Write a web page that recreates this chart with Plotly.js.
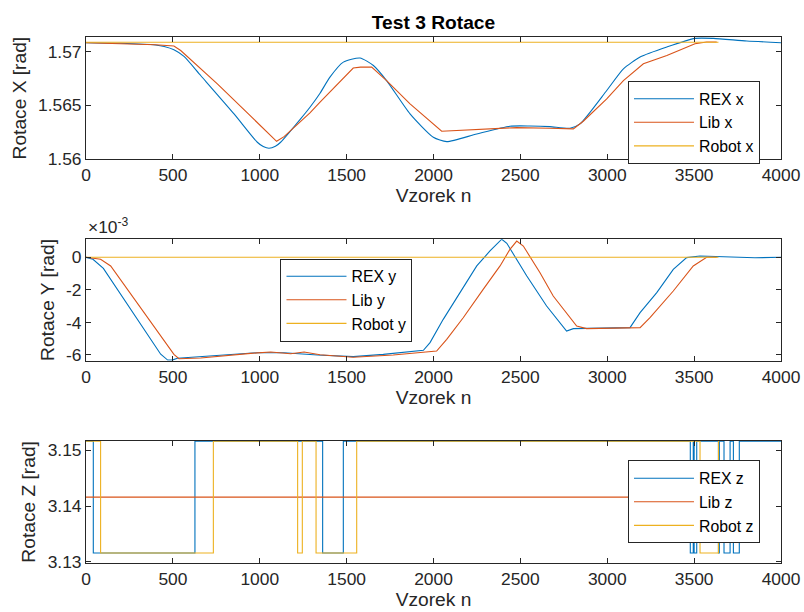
<!DOCTYPE html>
<html>
<head>
<meta charset="utf-8">
<script src="https://cdn.plot.ly/plotly-3.0.1.min.js"></script>
<style>html,body{margin:0;padding:0;background:#fff}#chart{width:804px;height:612px}</style>
</head>
<body>
<div id="chart"></div>
<script>
// ---------- Rotace X ----------
const rexX_n = [0, 200, 400, 450, 506, 564, 660, 852, 986, 1020, 1053, 1090, 1120, 1235, 1289, 1347, 1404, 1481, 1577, 1654, 1730, 1865, 1999, 2076, 2249, 2440, 2555, 2670, 2786, 2843, 2997, 3093, 3189, 3343, 3505, 3611, 3803, 4000];
const rexX_v = [1.57081, 1.57076, 1.57060, 1.57046, 1.57016, 1.56954, 1.56777, 1.56421, 1.56158, 1.56118, 1.56102, 1.56120, 1.56158, 1.56375, 1.56483, 1.56613, 1.56762, 1.56901, 1.56939, 1.56870, 1.56730, 1.56421, 1.56204, 1.56164, 1.56235, 1.56307, 1.56309, 1.56303, 1.56288, 1.56328, 1.56638, 1.56839, 1.56948, 1.57041, 1.57121, 1.57121, 1.57097, 1.57081];
const libX_n = [0, 200, 400, 506, 545, 756, 948, 1097, 1140, 1235, 1289, 1347, 1442, 1538, 1580, 1644, 1730, 1865, 2047, 2249, 2479, 2670, 2805, 2862, 2997, 3093, 3208, 3343, 3505, 3572, 3630];
const libX_v = [1.57081, 1.57072, 1.57062, 1.57050, 1.57009, 1.56700, 1.56396, 1.56167, 1.56210, 1.56349, 1.56430, 1.56530, 1.56684, 1.56846, 1.56855, 1.56855, 1.56730, 1.56514, 1.56260, 1.56275, 1.56294, 1.56288, 1.56282, 1.56353, 1.56560, 1.56730, 1.56886, 1.56963, 1.57072, 1.57087, 1.57087];
const robotX_n = [0, 3640];
const robotX_v = [1.57085, 1.57085];

// ---------- Rotace Y (x 10^-3 rad) ----------
const rexY_n = [0, 40, 100, 430, 470, 500, 526, 756, 986, 1140, 1332, 1538, 1711, 1942, 1980, 2056, 2152, 2249, 2325, 2393, 2422, 2537, 2651, 2766, 2805, 2997, 3131, 3189, 3285, 3380, 3457, 3534, 3700, 3850, 4000];
const rexY_v = [0, -0.12, -0.68, -5.95, -6.31, -6.30, -6.20, -6.02, -5.86, -5.86, -6.00, -6.10, -5.96, -5.71, -5.24, -3.81, -2.17, -0.53, 0.39, 1.11, 0.86, -1.15, -2.99, -4.53, -4.38, -4.36, -4.32, -3.40, -2.17, -0.74, -0.02, 0.08, 0.00, -0.03, 0.00];
const libY_n = [0, 84, 142, 506, 535, 660, 948, 1063, 1178, 1255, 1347, 1538, 1768, 1942, 2018, 2076, 2171, 2286, 2383, 2440, 2479, 2517, 2613, 2689, 2737, 2766, 2824, 2881, 3189, 3246, 3380, 3495, 3572, 3630];
const libY_v = [0, -0.12, -0.53, -5.96, -6.23, -6.18, -5.90, -5.82, -5.92, -5.82, -5.98, -6.14, -6.00, -5.86, -5.76, -5.04, -3.71, -1.97, -0.53, 0.49, 1.00, 0.69, -0.95, -2.38, -3.03, -3.40, -4.22, -4.38, -4.32, -3.71, -2.07, -0.53, 0, 0];
const robotY_n = [0, 3640];
const robotY_v = [0, 0];

// ---------- Rotace Z (step signals) ----------
const rexZ_n = [0, 42, 627, 1362, 1481, 3478, 3495, 3500, 3515, 3640, 3645, 3672, 3707, 3726, 3760, 4000];
const rexZ_v = [3.15159, 3.13159, 3.15159, 3.13159, 3.15159, 3.13159, 3.15159, 3.13159, 3.15159, 3.13159, 3.15159, 3.13159, 3.15159, 3.13159, 3.15159, 3.15159];
const libZ_n = [0, 3630];
const libZ_v = [3.14159, 3.14159];
const robotZ_n = [0, 84, 733, 1218, 1245, 1324, 1558, 3534, 3640, 3645];
const robotZ_v = [3.15159, 3.13159, 3.15159, 3.13159, 3.15159, 3.13159, 3.15159, 3.13159, 3.15159, 3.15159];

const xTicks = [0, 500, 1000, 1500, 2000, 2500, 3000, 3500, 4000];
const y1Ticks = [1.56, 1.565, 1.57];
const y1TickText = ['1.56', '1.565', '1.57'];
const y2Ticks = [-6, -4, -2, 0];
const y2TickText = ['-6', '-4', '-2', '0'];
const y3Ticks = [3.13, 3.14, 3.15];
const y3TickText = ['3.13', '3.14', '3.15'];

const C_REX = '#0072BD', C_LIB = '#D95319', C_ROB = '#EDB120';
const AX = '#262626';
const FONT = 'Liberation Sans, Arial, Helvetica, sans-serif';
const TICK = 17.4, LAB = 19.2, LEG = 15.8;

function tr(x, y, name, color, xa, ya, leg, shape) {
  const line = {color: color, width: 1.1, shape: shape || 'linear'};
  if (shape === 'spline') line.smoothing = 0.6;
  return {x: x, y: y, name: name, type: 'scatter', mode: 'lines', xaxis: xa, yaxis: ya,
          legend: leg, line: line, hoverinfo: 'skip'};
}

const data = [
  tr(rexX_n, rexX_v, 'REX x', C_REX, 'x', 'y', 'legend', 'spline'),
  tr(libX_n, libX_v, 'Lib x', C_LIB, 'x', 'y', 'legend'),
  tr(robotX_n, robotX_v, 'Robot x', C_ROB, 'x', 'y', 'legend'),
  tr(rexY_n, rexY_v, 'REX y', C_REX, 'x2', 'y2', 'legend2'),
  tr(libY_n, libY_v, 'Lib y', C_LIB, 'x2', 'y2', 'legend2'),
  tr(robotY_n, robotY_v, 'Robot y', C_ROB, 'x2', 'y2', 'legend2'),
  tr(rexZ_n, rexZ_v, 'REX z', C_REX, 'x3', 'y3', 'legend3', 'hv'),
  tr(libZ_n, libZ_v, 'Lib z', C_LIB, 'x3', 'y3', 'legend3'),
  tr(robotZ_n, robotZ_v, 'Robot z', C_ROB, 'x3', 'y3', 'legend3', 'hv')
];

function xax(anchor) {
  return {anchor: anchor, domain: [0, 1], range: [0, 4000], tickvals: xTicks, ticks: 'inside', ticklen: 5,
          tickcolor: AX, showline: true, linecolor: AX, linewidth: 1, mirror: 'ticks', zeroline: false,
          showgrid: false, tickfont: {size: TICK, color: AX, family: FONT},
          title: {text: 'Vzorek n', font: {size: LAB, color: AX, family: FONT}, standoff: 3}};
}
function yax(anchor, dom, range, tv, tt, label) {
  return {anchor: anchor, domain: dom, range: range, tickvals: tv, ticktext: tt, ticks: 'inside', ticklen: 5,
          tickcolor: AX, showline: true, linecolor: AX, linewidth: 1, mirror: 'ticks', zeroline: false,
          showgrid: false, tickfont: {size: TICK, color: AX, family: FONT},
          title: {text: label, font: {size: LAB, color: AX, family: FONT}, standoff: 6}};
}
function leg(x, y) {
  return {x: x, y: y, xanchor: 'center', yanchor: 'middle', bgcolor: '#ffffff', bordercolor: AX, borderwidth: 1,
          font: {size: LEG, color: '#000', family: FONT}, itemwidth: 60, tracegroupgap: 0};
}

const layout = {
  width: 804, height: 612,
  margin: {l: 86, r: 23, t: 37, b: 49},
  paper_bgcolor: '#fff', plot_bgcolor: '#fff',
  font: {family: FONT, color: AX},
  title: {text: '<b>Test 3 Rotace</b>', font: {size: LAB, color: '#000', family: FONT},
          x: 0.5, xref: 'paper', y: 0.964, yref: 'container', yanchor: 'middle'},
  xaxis: xax('y'), xaxis2: xax('y2'), xaxis3: xax('y3'),
  yaxis: yax('x', [0.7675, 1], [1.56, 1.57134], y1Ticks, y1TickText, 'Rotace X [rad]'),
  yaxis2: yax('x2', [0.3846, 0.6154], [-6.35, 1.106], y2Ticks, y2TickText, 'Rotace Y [rad]'),
  yaxis3: yax('x3', [0, 0.2325], [3.1298, 3.1517], y3Ticks, y3TickText, 'Rotace Z [rad]'),
  legend: leg(0.8748, 0.8375),
  legend2: leg(0.3748, 0.5),
  legend3: leg(0.8748, 0.116),
  showlegend: true,
  annotations: [{text: '×10<sup>-3</sup>', xref: 'paper', yref: 'paper', x: 0, y: 0.6154, xanchor: 'left',
                 yanchor: 'bottom', yshift: 0, showarrow: false, font: {size: TICK, color: AX, family: FONT}}]
};

Plotly.newPlot('chart', data, layout, {staticPlot: true, displayModeBar: false});
</script>
</body>
</html>
